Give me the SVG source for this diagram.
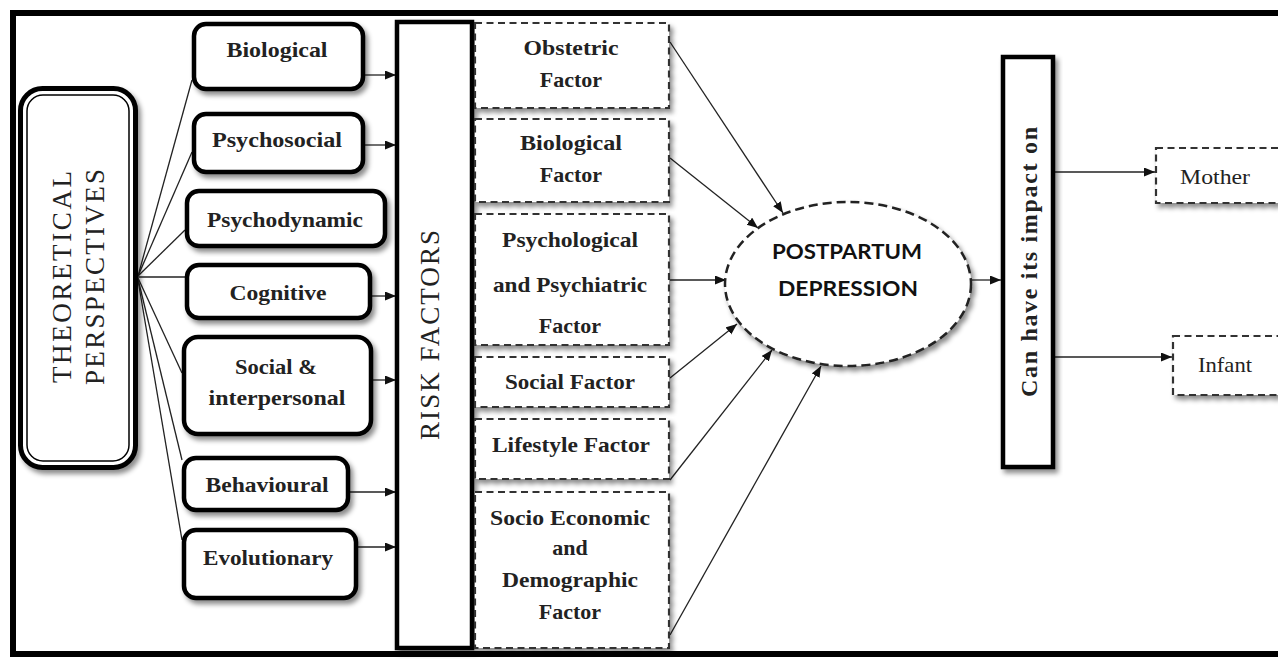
<svg xmlns="http://www.w3.org/2000/svg" width="1278" height="659" viewBox="0 0 1278 659">
<style>
.rb{fill:#fff;stroke:#000;stroke-width:4.5}
.db{fill:#fff;stroke:#333;stroke-width:2.2;stroke-dasharray:7 4.5}
.bs{font-family:"Liberation Serif",serif;font-weight:bold;font-size:22px;fill:#222;text-anchor:middle}
.rs{font-family:"Liberation Serif",serif;font-size:22px;fill:#222;text-anchor:middle}
.big{font-size:27px}
.imp{font-size:24px}
.ss{font-family:Lato,"Liberation Sans",sans-serif;font-weight:bold;font-size:21px;fill:#111;text-anchor:middle}
.ln{stroke:#222;stroke-width:1.3;fill:none}
.ar{stroke:#222;stroke-width:1.3;fill:none;marker-end:url(#ah)}
</style>
<defs>
<marker id="ah" markerUnits="userSpaceOnUse" markerWidth="12" markerHeight="10" refX="11" refY="4.5" orient="auto">
<path d="M0,0 L11,4.5 L0,9 z" fill="#111"/>
</marker>
<filter id="sh" x="-10%" y="-10%" width="130%" height="130%">
<feDropShadow dx="3" dy="4" stdDeviation="2.5" flood-color="#000" flood-opacity="0.45"/>
</filter>
</defs>
<rect width="1278" height="659" fill="#fff"/>
<rect x="13" y="13" width="1290" height="641" fill="#fff" stroke="#000" stroke-width="6"/>

<g id="connectors">
<line class="ln" x1="138" y1="276" x2="192" y2="80"/>
<line class="ln" x1="138" y1="276" x2="192" y2="152"/>
<line class="ln" x1="138" y1="276" x2="185" y2="230"/>
<line class="ln" x1="138" y1="277" x2="185" y2="277"/>
<line class="ln" x1="138" y1="278" x2="182" y2="373"/>
<line class="ln" x1="138" y1="279" x2="182" y2="460"/>
<line class="ln" x1="138" y1="280" x2="182" y2="540"/>
<line class="ar" x1="364" y1="75" x2="396" y2="75"/>
<line class="ar" x1="365" y1="145" x2="396" y2="145"/>
<line class="ar" x1="372" y1="296" x2="396" y2="296"/>
<line class="ar" x1="373" y1="380" x2="396" y2="380"/>
<line class="ar" x1="350" y1="492" x2="396" y2="492"/>
<line class="ar" x1="358" y1="547" x2="396" y2="547"/>
<line class="ar" x1="670" y1="42" x2="783" y2="213"/>
<line class="ar" x1="670" y1="158" x2="758" y2="228"/>
<line class="ar" x1="670" y1="280" x2="726" y2="280"/>
<line class="ar" x1="670" y1="378" x2="737" y2="324"/>
<line class="ar" x1="670" y1="480" x2="772" y2="350"/>
<line class="ar" x1="670" y1="635" x2="821" y2="366"/>
<line class="ar" x1="972" y1="280" x2="1001" y2="280"/>
<line class="ar" x1="1055" y1="172" x2="1155" y2="172"/>
<line class="ar" x1="1055" y1="357" x2="1172" y2="357"/>
</g>

<g id="theoretical">
<rect x="20.5" y="88.5" width="115" height="379" rx="22" fill="#fff" stroke="#000" stroke-width="5" filter="url(#sh)"/>
<rect x="27" y="95" width="102" height="366" rx="16" fill="none" stroke="#000" stroke-width="1.5"/>
<text class="rs big" transform="translate(71,277) rotate(-90)" textLength="212" lengthAdjust="spacing">THEORETICAL</text>
<text class="rs big" transform="translate(104,277) rotate(-90)" textLength="216" lengthAdjust="spacing">PERSPECTIVES</text>
</g>

<g id="n-biological"><rect class="rb" x="194" y="24" width="169" height="65" rx="12" filter="url(#sh)"/><text class="bs" x="277" y="57" textLength="101" lengthAdjust="spacingAndGlyphs">Biological</text></g>
<g id="n-psychosocial"><rect class="rb" x="194" y="114" width="169" height="58" rx="12" filter="url(#sh)"/><text class="bs" x="277" y="147" textLength="130" lengthAdjust="spacingAndGlyphs">Psychosocial</text></g>
<g id="n-psychodynamic"><rect class="rb" x="187" y="191" width="198" height="55" rx="12" filter="url(#sh)"/><text class="bs" x="285" y="227" textLength="156" lengthAdjust="spacingAndGlyphs">Psychodynamic</text></g>
<g id="n-cognitive"><rect class="rb" x="187" y="265" width="183" height="53" rx="12" filter="url(#sh)"/><text class="bs" x="278" y="300" textLength="97" lengthAdjust="spacingAndGlyphs">Cognitive</text></g>
<g id="n-social"><rect class="rb" x="184" y="337" width="187" height="97" rx="14" filter="url(#sh)"/><text class="bs" x="276" y="374" textLength="82" lengthAdjust="spacingAndGlyphs">Social &amp;</text><text class="bs" x="277" y="405" textLength="137" lengthAdjust="spacingAndGlyphs">interpersonal</text></g>
<g id="n-behavioural"><rect class="rb" x="184" y="458" width="164" height="52" rx="12" filter="url(#sh)"/><text class="bs" x="267" y="492" textLength="123" lengthAdjust="spacingAndGlyphs">Behavioural</text></g>
<g id="n-evolutionary"><rect class="rb" x="184" y="530" width="172" height="68" rx="12" filter="url(#sh)"/><text class="bs" x="268" y="565" textLength="130" lengthAdjust="spacingAndGlyphs">Evolutionary</text></g>

<g id="risk-factors"><rect class="rb" x="397" y="22" width="75" height="626" filter="url(#sh)"/><text class="rs big" transform="translate(439,335) rotate(-90)" textLength="210" lengthAdjust="spacing">RISK FACTORS</text></g>

<g id="f-obstetric"><rect class="db" x="475" y="23" width="194" height="85" filter="url(#sh)"/><text class="bs" x="571" y="55" textLength="95" lengthAdjust="spacingAndGlyphs">Obstetric</text><text class="bs" x="571" y="87">Factor</text></g>
<g id="f-biological"><rect class="db" x="475" y="119" width="194" height="83" filter="url(#sh)"/><text class="bs" x="571" y="150" textLength="102" lengthAdjust="spacingAndGlyphs">Biological</text><text class="bs" x="571" y="182">Factor</text></g>
<g id="f-psych"><rect class="db" x="475" y="214" width="194" height="131" filter="url(#sh)"/><text class="bs" x="570" y="247" textLength="136" lengthAdjust="spacingAndGlyphs">Psychological</text><text class="bs" x="570" y="292" textLength="154" lengthAdjust="spacingAndGlyphs">and Psychiatric</text><text class="bs" x="570" y="333">Factor</text></g>
<g id="f-social"><rect class="db" x="475" y="357" width="194" height="50" filter="url(#sh)"/><text class="bs" x="570" y="389" textLength="130" lengthAdjust="spacingAndGlyphs">Social Factor</text></g>
<g id="f-lifestyle"><rect class="db" x="475" y="419" width="194" height="60" filter="url(#sh)"/><text class="bs" x="571" y="452" textLength="158" lengthAdjust="spacingAndGlyphs">Lifestyle Factor</text></g>
<g id="f-socio"><rect class="db" x="475" y="492" width="194" height="156" filter="url(#sh)"/><text class="bs" x="570" y="525" textLength="160" lengthAdjust="spacingAndGlyphs">Socio Economic</text><text class="bs" x="570" y="555">and</text><text class="bs" x="570" y="587" textLength="136" lengthAdjust="spacingAndGlyphs">Demographic</text><text class="bs" x="570" y="619">Factor</text></g>

<g id="ppd"><ellipse cx="848" cy="284" rx="123" ry="82" fill="#fff" stroke="#222" stroke-width="2.5" stroke-dasharray="9 5" filter="url(#sh)"/><text class="ss" x="847" y="259" textLength="150" lengthAdjust="spacingAndGlyphs">POSTPARTUM</text><text class="ss" x="848" y="296" textLength="140" lengthAdjust="spacingAndGlyphs">DEPRESSION</text></g>

<g id="impact"><rect class="rb" x="1003" y="57" width="50" height="410" filter="url(#sh)"/><text class="bs imp" transform="translate(1037,262) rotate(-90)" textLength="270" lengthAdjust="spacing">Can have its impact on</text></g>

<g id="mother"><rect class="db" x="1156" y="148" width="130" height="55" filter="url(#sh)"/><text class="rs" x="1215" y="184" textLength="70" lengthAdjust="spacingAndGlyphs">Mother</text></g>
<g id="infant"><rect class="db" x="1173" y="336" width="120" height="59" filter="url(#sh)"/><text class="rs" x="1225" y="372" textLength="54" lengthAdjust="spacingAndGlyphs">Infant</text></g>
</svg>
